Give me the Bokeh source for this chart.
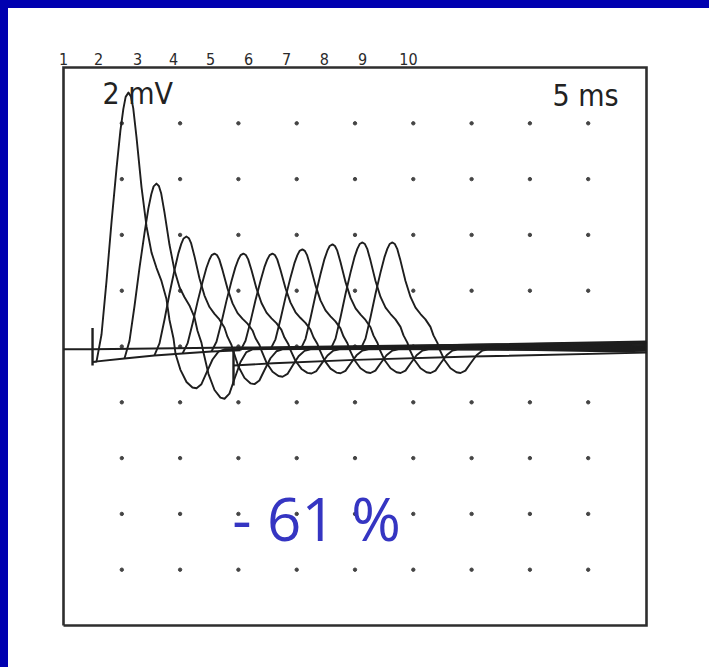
from bokeh.plotting import figure
from bokeh.core.properties import value
from bokeh.embed import file_html
from bokeh.resources import INLINE

# ---------------- data ----------------
# Scale: 5 ms / division horizontally, 2 mV / division vertically
box_x = (0, 50)
box_y = (-10, 10)
grid_x = [5, 10, 15, 20, 25, 30, 35, 40, 45]
grid_y = [-8, -6, -4, -2, 0, 2, 4, 6, 8]

trace_labels = ["1", "2", "3", "4", "5", "6", "7", "8", "9", "10"]
label_x = [0.0, 3.0, 6.35, 9.43, 12.61, 15.87, 19.13, 22.38, 25.64, 29.59]

# per-response values (10 successive stimuli)
onset_ms = [2.83, 5.23, 7.80, 10.21, 12.69, 15.18, 17.75, 20.33, 22.90, 25.47]
onset_base_mv = [-0.54, -0.43, -0.32, -0.25, -0.18, -0.14, -0.10, -0.10, -0.10, -0.10]
peak_mv = [9.10, 5.84, 3.94, 3.33, 3.33, 3.33, 3.48, 3.66, 3.73, 3.73]
dip_mv = [1.30, 1.70, 1.20, 0.95, 0.85, 0.85, 0.85, 0.85, 0.85, 0.85]
end_mv = [0.18, 0.14, 0.10, 0.06, 0.02, -0.02, -0.06, -0.10, -0.14, -0.20]

# CMAP shape read from response 10 (time after onset, fraction of peak)
pos_dt = [0.0, 0.43, 0.86, 1.29, 1.72, 2.05, 2.30, 2.50, 2.74, 2.95, 3.15, 3.43,
          3.86, 4.29, 4.72, 5.15, 5.57, 6.0, 6.26, 6.60, 6.78]
pos_frac = [0.0, 0.10, 0.30, 0.52, 0.72, 0.86, 0.94, 0.985, 1.0, 0.985, 0.94, 0.83,
            0.64, 0.49, 0.39, 0.33, 0.28, 0.21, 0.13, 0.06, 0.0]
neg_dt = [7.2, 7.72, 8.23, 8.58, 9.0, 9.43, 9.95, 10.46, 10.98]
neg_frac = [0.45, 0.80, 0.97, 1.0, 0.90, 0.60, 0.25, 0.05, 0.0]
settle_mv = -0.1

# stimulus artifacts and baselines
stim1_t, stim1_top, stim1_bottom = 2.49, 0.66, -0.68
stim2_t, stim2_top, stim2_bottom = 14.58, -0.04, -1.40
upper_base_x = [0.0, 2.49, 50.0]
upper_base_y = [-0.10, -0.10, 0.14]
lower_base_x = [2.49, 5.23, 7.80, 10.21, 12.69, 15.18]
lower_base_y = [-0.55, -0.43, -0.32, -0.25, -0.18, -0.14]
stim2_base_x = [14.58, 18.0, 25.0, 35.0, 50.0]
stim2_base_y = [-0.68, -0.60, -0.48, -0.36, -0.22]

# ---------------- build traces ----------------
xs, ys = [], []
for i in range(len(onset_ms)):
    t0, b0, pk, dp, e = onset_ms[i], onset_base_mv[i], peak_mv[i], dip_mv[i], end_mv[i]
    t1 = t0 + neg_dt[-1]

    def base(t):
        if t <= t1:
            return b0 + (settle_mv - b0) * (t - t0) / (t1 - t0)
        return settle_mv + (e - settle_mv) * (t - t1) / (50 - t1)

    t_pk = t0 + pos_dt[pos_frac.index(1.0)]
    amp = pk - base(t_pk)
    tx, ty = [], []
    if i == 0:
        tx.append(stim1_t + 0.05)
        ty.append(stim1_bottom + 0.13)
    for dt, f in zip(pos_dt, pos_frac):
        tx.append(t0 + dt)
        ty.append(base(t0 + dt) + amp * f)
    for dt, g in zip(neg_dt, neg_frac):
        tx.append(t0 + dt)
        ty.append(base(t0 + dt) - dp * g)
    tx.append(50.0)
    ty.append(e)
    xs.append(tx)
    ys.append(ty)

# ---------------- figure ----------------
# frame slightly larger than the instrument box so the box edges and the
# response numbers above it are fully visible
W, H = 701, 659
p = figure(width=W, height=H, x_range=(-0.429, 50.429), y_range=(-10.179, 10.789),
           output_backend="svg", toolbar_location=None,
           min_border_left=50, min_border_right=58,
           min_border_top=37, min_border_bottom=37)
p.axis.visible = False
p.grid.visible = False
p.background_fill_color = "white"
p.border_fill_color = "white"
p.outline_line_color = None

# instrument box
p.line([box_x[0], box_x[1], box_x[1], box_x[0], box_x[0]],
       [box_y[0], box_y[0], box_y[1], box_y[1], box_y[0]],
       line_color="#2e2e2e", line_width=2.6, line_join="miter")

# dotted graticule
gx = [x for y in grid_y for x in grid_x]
gy = [y for y in grid_y for x in grid_x]
p.scatter(gx, gy, size=3.4, color="#444444", marker="circle")

trace_color = "#1e1e1e"
lw = 1.9
p.multi_line(xs=xs, ys=ys, line_color=trace_color, line_width=lw, line_join="round")
p.line(upper_base_x, upper_base_y, line_color=trace_color, line_width=lw)
p.line(lower_base_x, lower_base_y, line_color=trace_color, line_width=lw)
p.line(stim2_base_x, stim2_base_y, line_color=trace_color, line_width=lw)
p.segment(x0=[stim1_t, stim2_t], y0=[stim1_top, stim2_top],
          x1=[stim1_t, stim2_t], y1=[stim1_bottom, stim2_bottom],
          line_color=trace_color, line_width=2.4)

cond = value("DejaVu Sans Condensed")

# scale texts
p.text(x=[3.34], y=[9.07], text=["2 mV"], text_font=cond,
       text_font_size="30px", text_color="#222222", text_baseline="alphabetic",
       text_align="left")
p.text(x=[41.94], y=[9.0], text=["5 ms"], text_font=cond,
       text_font_size="30px", text_color="#222222", text_baseline="alphabetic",
       text_align="left")

# decrement annotation
p.text(x=[21.7], y=[-6.16], text=["- 61 %"], text_font=value("Open Sans"),
       text_font_size="60px", text_color="#3535C2", text_baseline="alphabetic",
       text_align="center")

# response numbers above the box
p.text(x=label_x, y=[10.3] * len(label_x), text=trace_labels, text_font=cond,
       text_font_size="16px", text_color="#2a2a2a", text_align="center",
       text_baseline="middle")

html = file_html(p, INLINE)
style = ("<style>html{min-height:100%;background:"
         "linear-gradient(#0000b0,#0000b0) 0 0/100% 8px no-repeat,"
         "linear-gradient(#0000b0,#0000b0) 0 0/8px 100% no-repeat,#ffffff}"
         "body{margin:8px 0 0 8px;background:transparent;overflow:hidden}</style></head>")
html = html.replace("</head>", style, 1)
open("out.html", "w").write(html)
